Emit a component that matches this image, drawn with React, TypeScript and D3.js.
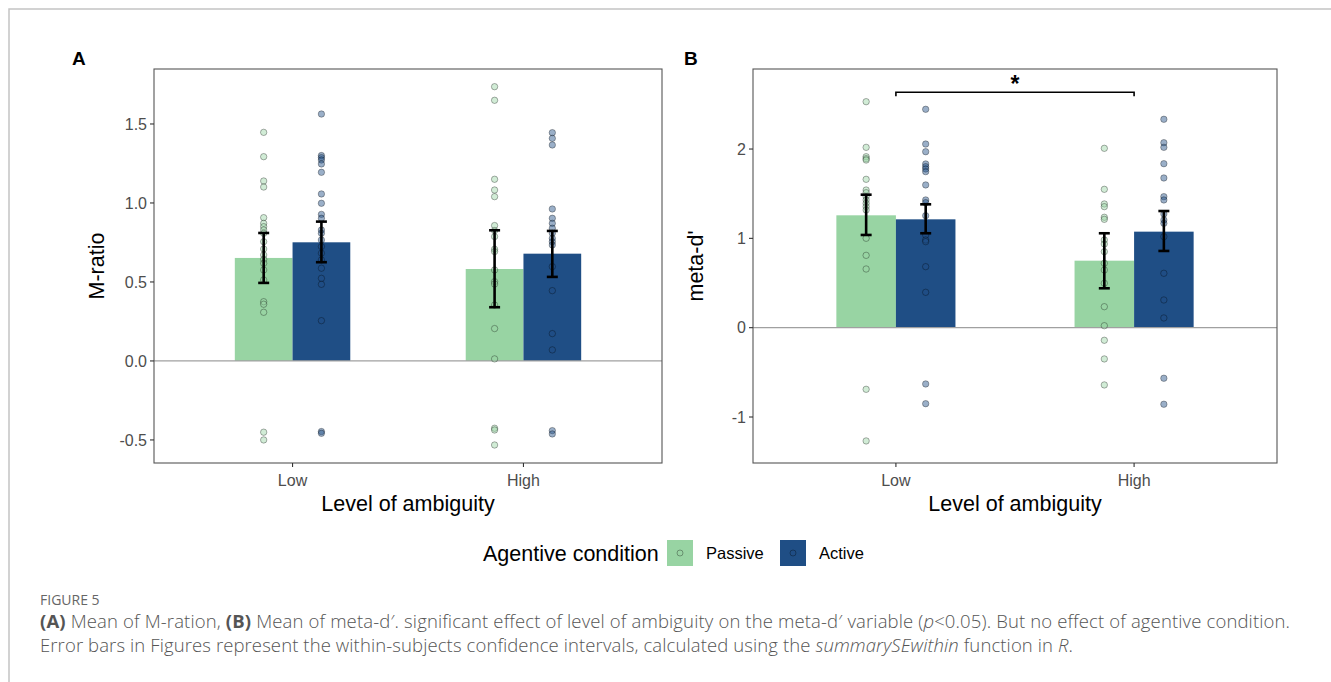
import * as d3 from 'd3';
import React from 'react';

// --- data ---
const categories = ['Low', 'High'];
const conditions = ['Passive', 'Active'];
const conditionColors = ['#98d4a3', '#1f4e85'];

// Panel A: M-ratio
const mratioMeanPassive = [0.652, 0.582];
const mratioMeanActive = [0.751, 0.679];
const mratioLowerPassive = [0.494, 0.34];
const mratioUpperPassive = [0.81, 0.827];
const mratioLowerActive = [0.625, 0.532];
const mratioUpperActive = [0.882, 0.823];
const mratioPassiveLow = [1.447, 1.293, 1.139, 1.101, 0.907, 0.871, 0.85, 0.829, 0.808, 0.755, 0.709, 0.671, 0.643, 0.618, 0.576, 0.513, 0.375, 0.359, 0.308, -0.451, -0.5];
const mratioActiveLow = [1.563, 1.3, 1.287, 1.272, 1.247, 1.194, 1.057, 0.998, 0.928, 0.903, 0.829, 0.808, 0.766, 0.724, 0.682, 0.639, 0.587, 0.523, 0.485, 0.255, -0.447, -0.458];
const mratioPassiveHigh = [1.736, 1.65, 1.15, 1.082, 1.04, 0.857, 0.825, 0.787, 0.707, 0.692, 0.576, 0.502, 0.487, 0.354, 0.205, 0.013, -0.426, -0.437, -0.532];
const mratioActiveHigh = [1.445, 1.409, 1.367, 0.962, 0.903, 0.871, 0.84, 0.808, 0.776, 0.755, 0.734, 0.597, 0.445, 0.173, 0.07, -0.441, -0.462];
const mratioTicks = [-0.5, 0, 0.5, 1, 1.5];
const mratioDomain = [-0.646, 1.848];

// Panel B: meta-d'
const metaMeanPassive = [1.258, 0.75];
const metaMeanActive = [1.213, 1.075];
const metaLowerPassive = [1.038, 0.441];
const metaUpperPassive = [1.489, 1.057];
const metaLowerActive = [1.057, 0.859];
const metaUpperActive = [1.381, 1.306];
const metaPassiveLow = [2.53, 2.019, 1.914, 1.892, 1.877, 1.661, 1.541, 1.511, 1.467, 1.43, 1.392, 1.355, 1.318, 1.001, 0.81, 0.657, -0.69, -1.268];
const metaActiveLow = [2.445, 2.056, 1.97, 1.833, 1.803, 1.777, 1.747, 1.598, 1.43, 1.4, 1.254, 1.038, 0.982, 0.963, 0.683, 0.396, -0.63, -0.851];
const metaPassiveHigh = [2.008, 1.549, 1.385, 1.355, 1.236, 1.213, 0.982, 0.937, 0.851, 0.721, 0.646, 0.497, 0.235, 0.022, -0.141, -0.35, -0.641];
const metaActiveHigh = [2.333, 2.071, 2.019, 1.836, 1.676, 1.467, 1.43, 1.273, 1.206, 1.168, 1.019, 0.609, 0.31, 0.109, -0.566, -0.857];
const metaTicks = [-1, 0, 1, 2];
const metaDomain = [-1.515, 2.896];
const sigBracketY = 2.635;
const sigLabelY = 2.75;

const FONT = '"Liberation Sans", Arial, sans-serif';

// ggplot prints a plain hyphen for negatives
const hyphen = (f: (v: number) => string) => (v: number) => f(v).replace('−', '-');

interface PanelProps {
  left: number;
  right: number;
  label: string;
  labelX: number;
  yLabel: string;
  domain: number[];
  ticks: number[];
  fmt: (v: number) => string;
  means: number[][];
  lower: number[][];
  upper: number[][];
  points: number[][][];
  sig?: boolean;
}

const TOP = 69;
const BOTTOM = 463;

const Panel: React.FC<PanelProps> = ({ left, right, label, labelX, yLabel, domain, ticks, fmt, means, lower, upper, points, sig }) => {
  const x = d3.scalePoint<string>().domain(categories).range([left, right]).padding(0.6);
  const step = x.step();
  const barW = step * 0.25;
  const y = d3.scaleLinear().domain(domain).range([BOTTOM, TOP]);
  const dodge = (ci: number) => (ci === 0 ? -barW / 2 : barW / 2);
  const cap = 5.5;

  return (
    <g>
      <text x={labelX} y={65} fontFamily={FONT} fontWeight="bold" fontSize={19}>{label}</text>
      {/* bars */}
      {categories.map((c, li) =>
        conditions.map((cond, ci) => (
          <rect key={c + cond} x={(x(c) as number) + dodge(ci) - barW / 2} y={y(means[ci][li])}
            width={barW} height={y(0) - y(means[ci][li])} fill={conditionColors[ci]} />
        ))
      )}
      <line x1={left} x2={right} y1={y(0)} y2={y(0)} stroke="#a0a0a0" strokeWidth={1.3} />
      {/* individual points */}
      {categories.map((c, li) =>
        conditions.map((cond, ci) =>
          points[ci][li].map((v, k) => (
            <circle key={c + cond + k} cx={(x(c) as number) + dodge(ci)} cy={y(v)} r={3.2}
              fill={conditionColors[ci]} fillOpacity={0.45} stroke="#000" strokeOpacity={0.35} strokeWidth={0.9} />
          ))
        )
      )}
      {/* error bars */}
      {categories.map((c, li) =>
        conditions.map((cond, ci) => {
          const cx = (x(c) as number) + dodge(ci);
          const y1 = y(lower[ci][li]);
          const y2 = y(upper[ci][li]);
          return (
            <g key={'e' + c + cond} stroke="#000" strokeWidth={2.6}>
              <line x1={cx} x2={cx} y1={y1} y2={y2} />
              <line x1={cx - cap} x2={cx + cap} y1={y1} y2={y1} />
              <line x1={cx - cap} x2={cx + cap} y1={y2} y2={y2} />
            </g>
          );
        })
      )}
      {sig && (
        <g>
          <path d={`M${x('Low')},${y(sigBracketY) + 4}V${y(sigBracketY)}H${x('High')}V${y(sigBracketY) + 4}`}
            fill="none" stroke="#000" strokeWidth={1.6} />
          <text x={((x('Low') as number) + (x('High') as number)) / 2} y={y(sigLabelY) + 10} textAnchor="middle"
            fontFamily={FONT} fontWeight="bold" fontSize={23}>*</text>
        </g>
      )}
      {/* frame */}
      <rect x={left} y={TOP} width={right - left} height={BOTTOM - TOP} fill="none" stroke="#555" strokeWidth={1.1} />
      {/* y axis */}
      {ticks.map(t => (
        <g key={'y' + t}>
          <line x1={left - 4} x2={left} y1={y(t)} y2={y(t)} stroke="#333" strokeWidth={1.1} />
          <text x={left - 7} y={y(t)} dy="0.36em" textAnchor="end" fontFamily={FONT} fontSize={16} fill="#4d4d4d">{fmt(t)}</text>
        </g>
      ))}
      {/* x axis */}
      {categories.map(c => (
        <g key={'x' + c}>
          <line x1={x(c)} x2={x(c)} y1={BOTTOM} y2={BOTTOM + 4} stroke="#333" strokeWidth={1.1} />
          <text x={x(c)} y={BOTTOM + 23} textAnchor="middle" fontFamily={FONT} fontSize={16} fill="#4d4d4d">{c}</text>
        </g>
      ))}
      <text x={(left + right) / 2} y={BOTTOM + 48} textAnchor="middle" fontFamily={FONT} fontSize={21.5} fill="#000">Level of ambiguity</text>
      <text transform={`translate(${left - 50},${(TOP + BOTTOM) / 2}) rotate(-90)`} textAnchor="middle"
        fontFamily={FONT} fontSize={21.5} fill="#000">{yLabel}</text>
    </g>
  );
};

const App: React.FC = () => {
  const captionFont = '"Open Sans", Lato, sans-serif';
  return (
    <svg width={1331} height={682} style={{ position: 'absolute', left: 0, top: 0, background: '#fff' }}>
      <rect width={1331} height={682} fill="#fff" />
      <path d="M9,682V9H1331" fill="none" stroke="#c4c4c4" strokeWidth={1.5} />
      <Panel left={154} right={662} label="A" labelX={72} yLabel="M-ratio" domain={mratioDomain} ticks={mratioTicks}
        fmt={hyphen(d3.format('.1f'))}
        means={[mratioMeanPassive, mratioMeanActive]}
        lower={[mratioLowerPassive, mratioLowerActive]}
        upper={[mratioUpperPassive, mratioUpperActive]}
        points={[[mratioPassiveLow, mratioPassiveHigh], [mratioActiveLow, mratioActiveHigh]]} />
      <Panel left={753} right={1277} label="B" labelX={684} yLabel="meta-d'" domain={metaDomain} ticks={metaTicks}
        fmt={hyphen(d3.format('d'))}
        means={[metaMeanPassive, metaMeanActive]}
        lower={[metaLowerPassive, metaLowerActive]}
        upper={[metaUpperPassive, metaUpperActive]}
        points={[[metaPassiveLow, metaPassiveHigh], [metaActiveLow, metaActiveHigh]]} sig />
      {/* legend */}
      <text x={483} y={561} fontFamily={FONT} fontSize={21.5} fill="#000">Agentive condition</text>
      {conditions.map((cond, i) => {
        const kx = [667, 780][i];
        return (
          <g key={cond}>
            <rect x={kx} y={540} width={26} height={26} fill={conditionColors[i]} />
            <circle cx={kx + 13} cy={553} r={3} fill={conditionColors[i]} fillOpacity={0.45} stroke="#000" strokeOpacity={0.35} strokeWidth={0.9} />
            <text x={kx + 39} y={559} fontFamily={FONT} fontSize={16.5} fill="#000">{cond}</text>
          </g>
        );
      })}
      {/* caption */}
      <text x={40} y={605} fontFamily={captionFont} fontSize={14} fill="#666" fontWeight={400}>FIGURE 5</text>
      <text x={40} y={628} fontFamily={captionFont} fontSize={18.5} fill="#555" fontWeight={300}
        textLength={1250} lengthAdjust="spacing">
        <tspan fontWeight={700}>(A)</tspan> Mean of M-ration, <tspan fontWeight={700}>(B)</tspan> Mean of meta-d′. significant effect of level of ambiguity on the meta-d′ variable (<tspan fontStyle="italic">p</tspan>&lt;0.05). But no effect of agentive condition.
      </text>
      <text x={40} y={652} fontFamily={captionFont} fontSize={18.5} fill="#555" fontWeight={300}
        textLength={1033} lengthAdjust="spacing">
        Error bars in Figures represent the within-subjects confidence intervals, calculated using the <tspan fontStyle="italic">summarySEwithin</tspan> function in <tspan fontStyle="italic">R</tspan>.
      </text>
    </svg>
  );
};

export default App;
